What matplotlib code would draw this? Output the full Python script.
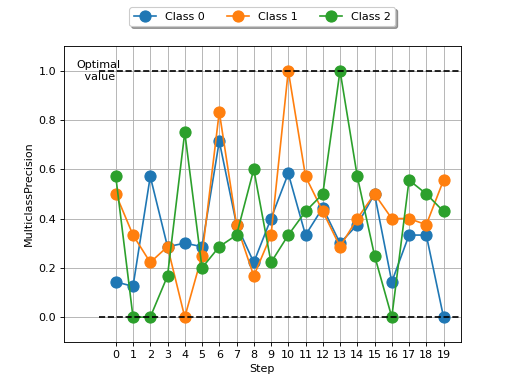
import matplotlib
matplotlib.use('Agg')
import matplotlib.pyplot as plt

steps = list(range(20))
class0 = [0.143, 0.125, 0.571, 0.286, 0.3, 0.286, 0.714, 0.375, 0.222, 0.4,
          0.583, 0.333, 0.444, 0.3, 0.375, 0.5, 0.143, 0.333, 0.333, 0.0]
class1 = [0.5, 0.333, 0.222, 0.286, 0.0, 0.25, 0.833, 0.375, 0.167, 0.333,
          1.0, 0.571, 0.429, 0.286, 0.4, 0.5, 0.4, 0.4, 0.375, 0.556]
class2 = [0.571, 0.0, 0.0, 0.167, 0.75, 0.2, 0.286, 0.333, 0.6, 0.222,
          0.333, 0.429, 0.5, 1.0, 0.571, 0.25, 0.0, 0.556, 0.5, 0.429]
labels = ['Class 0', 'Class 1', 'Class 2']

fig, ax = plt.subplots(figsize=(6.4, 4.8), dpi=80)

for vals, lab in zip([class0, class1, class2], labels):
    ax.plot(steps, vals, 'o-', markersize=10, label=lab)

ax.hlines([0.0, 1.0], -1, 20, colors='k', linestyles='dashed')
ax.text(-1, 1.0, 'Optimal\n value', ha='center', va='center')

ax.set_xlim(-3, 20)
ax.set_ylim(-0.1, 1.1)
ax.set_xticks(steps)
ax.grid(True)
ax.set_xlabel('Step')
ax.set_ylabel('MulticlassPrecision')
ax.legend(loc='upper center', bbox_to_anchor=(0.5, 1.15), ncol=3, shadow=True)

fig.savefig('out.png')
